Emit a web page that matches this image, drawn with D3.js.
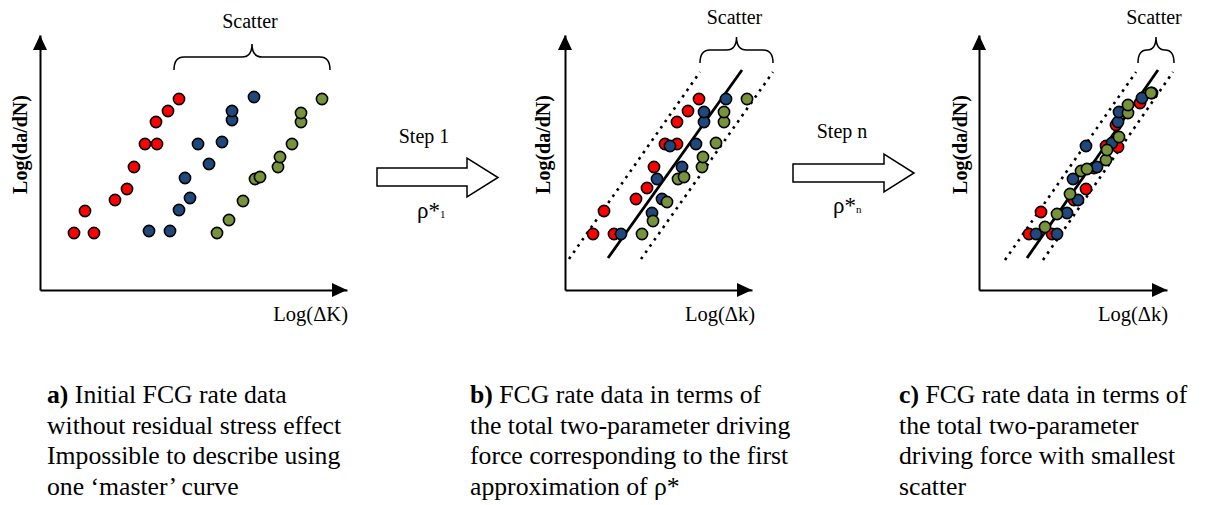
<!DOCTYPE html>
<html>
<head>
<meta charset="utf-8">
<script src="https://cdn.jsdelivr.net/npm/d3@7"></script>
<style>
  html, body { margin: 0; padding: 0; background: #fff; }
  svg { display: block; }
  text { font-family: "Liberation Serif", "Times New Roman", serif; fill: #000; }
</style>
</head>
<body>
<svg id="chart" width="1210" height="505"></svg>
<script>
// ---------------- DATA (schematic units: offset along each axis) ----------------
// Panel a: initial FCG data, three series
const aRed   = [[34,57],[54,57],[45,79],[75,90],[87,101],[94,123],[105,146],[117,146],[116,168],[128,179],[139,191]];
const aBlue  = [[109,59],[130,59],[139,80],[150,92],[145,112],[169,126],[158,146],[182,148],[192,170],[192,179],[214,193]];
const aGreen = [[177,57],[189,70],[203,89],[215,111],[220,113],[238,123],[240,133],[252,146],[261,168],[261,177],[282,191]];
const aScatter = [134, 290];          // brace span (x units)

// Panel b: first approximation rho*_1
const bRed   = [[28,56],[39,79],[49,56],[71,91],[82,102],[89,123],[100,146],[112,146],[112,168],[123,179],[134,191]];
const bBlue  = [[56,56],[87,77],[97,91],[92,111],[105,144],[117,123],[131,146],[139,168],[139,178],[161,191]];
const bGreen = [[77,56],[88,69],[102,88],[113,111],[119,113],[137,123],[138,133],[151,147],[159,168],[159,178],[182,191]];
const bFit   = [[43,32],[177,220]];
const bLow   = [[4,31],[135,218]];
const bHigh  = [[76,31],[208,218]];
const bScatter = [135, 208];

// Panel c: step n, rho*_n
const cRed   = [[50,56],[62,78],[73,56],[95,90],[107,101],[115,122],[127,144],[139,143],[137,165],[161,187],[173,197]];
const cBlue  = [[57,56],[78,56],[88,77],[99,90],[94,111],[118,123],[107,144],[133,147],[139,168],[140,178],[163,192]];
const cGreen = [[66,63],[78,76],[91,96],[102,119],[108,121],[127,130],[128,140],[140,153],[149,177],[149,185],[172,197]];
const cFit   = [[48,32],[179,220]];
const cLow   = [[26,30],[157,218]];
const cHigh  = [[64,30],[194,218]];
const cScatter = [159, 195];

// Text
const yLabel = "Log(da/dN)";
const xLabels = ["Log(\u0394K)", "Log(\u0394k)", "Log(\u0394k)"];
const scatterLabel = "Scatter";
const stepLabels = ["Step 1", "Step n"];
const rhoSubs = ["1", "n"];
const captions = [
  { tag: "a)", lines: [" Initial FCG rate data", "without residual stress effect", "Impossible to describe using", "one \u2018master\u2019 curve"] },
  { tag: "b)", lines: [" FCG rate data in terms of", "the total two-parameter driving", "force corresponding to the first", "approximation of \u03c1*"] },
  { tag: "c)", lines: [" FCG rate data in terms of", "the total two-parameter", "driving force with smallest", "scatter"] }
];

// ---------------- LAYOUT ----------------
const colors = { red: "#ff0000", blue: "#1f497d", green: "#77933c" };
const svg = d3.select("#chart");
const Y0 = 290, YTIP = 35, YLEN = 255;

const panels = [
  { x0: 40,  len: 307, series: [aRed, aBlue, aGreen], fit: null, low: null, high: null, scatter: aScatter, labelX: 27, xLabelRight: 348, scatterBase: 28, braceY: 70 },
  { x0: 565, len: 187, series: [bRed, bBlue, bGreen], fit: bFit, low: bLow, high: bHigh, scatter: bScatter, labelX: 550, xLabelRight: 755, scatterBase: 24, braceY: 63 },
  { x0: 979, len: 188, series: [cRed, cBlue, cGreen], fit: cFit, low: cLow, high: cHigh, scatter: cScatter, labelX: 967, xLabelRight: 1168, scatterBase: 24, braceY: 63 }
];
const seriesColors = [colors.red, colors.blue, colors.green];

panels.forEach((p, i) => {
  const x = d3.scaleLinear().domain([0, p.len]).range([p.x0, p.x0 + p.len]);
  const y = d3.scaleLinear().domain([0, YLEN]).range([Y0, YTIP]);
  const g = svg.append("g");

  // axes (domain lines only)
  const gx = g.append("g").attr("transform", `translate(0,${Y0})`)
    .call(d3.axisBottom(x).tickValues([]).tickSizeOuter(0));
  const gy = g.append("g").attr("transform", `translate(${p.x0},0)`)
    .call(d3.axisLeft(y).tickValues([]).tickSizeOuter(0));
  [gx, gy].forEach(a => a.select(".domain").attr("stroke", "#000").attr("stroke-width", 2));

  // arrowheads
  const xt = x(p.len), yt = y(YLEN);
  g.append("path").attr("d", `M${xt},${Y0} L${xt - 15},${Y0 - 7} L${xt - 15},${Y0 + 7} Z`).attr("fill", "#000");
  g.append("path").attr("d", `M${p.x0},${yt} L${p.x0 - 7},${yt + 15} L${p.x0 + 7},${yt + 15} Z`).attr("fill", "#000");

  // labels
  g.append("text")
    .attr("transform", `translate(${p.labelX},${(Y0 + YTIP) / 2 - 18}) rotate(-90)`)
    .attr("text-anchor", "middle")
    .style("font-size", "20px").style("font-weight", "bold")
    .text(yLabel);
  g.append("text").attr("x", p.xLabelRight).attr("y", 321)
    .attr("text-anchor", "end").style("font-size", "20.5px").text(xLabels[i]);

  // band lines
  const line = d3.line().x(d => x(d[0])).y(d => y(d[1]));
  if (p.low) {
    [p.low, p.high].forEach(l => {
      g.append("path").attr("d", line(l)).attr("fill", "none")
        .attr("stroke", "#000").attr("stroke-width", 2.6)
        .attr("stroke-dasharray", "2.6 5");
    });
    g.append("path").attr("d", line(p.fit)).attr("fill", "none")
      .attr("stroke", "#000").attr("stroke-width", 2.8);
  }

  // points
  p.series.forEach((s, k) => {
    g.append("g").selectAll("circle").data(s).join("circle")
      .attr("cx", d => x(d[0])).attr("cy", d => y(d[1])).attr("r", 5.6)
      .attr("fill", seriesColors[k]).attr("stroke", "#000").attr("stroke-width", 1.6);
  });

  // brace
  const x1 = x(p.scatter[0]), x2 = x(p.scatter[1]), xm = (x1 + x2) / 2;
  const yb = p.braceY, ytop = yb - 13, ytip = ytop - 13;
  const r = Math.min(10, (x2 - x1) / 4);
  g.append("path")
    .attr("d", `M${x1},${yb} Q${x1},${ytop} ${x1 + r},${ytop} L${xm - r},${ytop} Q${xm},${ytop} ${xm},${ytip} Q${xm},${ytop} ${xm + r},${ytop} L${x2 - r},${ytop} Q${x2},${ytop} ${x2},${yb}`)
    .attr("fill", "none").attr("stroke", "#000").attr("stroke-width", 1.5);
  g.append("text").attr("x", xm - 2).attr("y", p.scatterBase)
    .attr("text-anchor", "middle").style("font-size", "20px").text(scatterLabel);
});

// block arrows between panels
const arrows = [
  { x0: 377, xh: 467, xt: 498, b1: 168, b2: 186, h1: 158, h2: 197, labelX: 424, labelY: 143, rhoX: 417, rhoY: 218 },
  { x0: 793, xh: 884, xt: 914, b1: 164, b2: 182, h1: 154, h2: 192, labelX: 842, labelY: 138, rhoX: 833, rhoY: 213 }
];
arrows.forEach((a, i) => {
  const ym = (a.h1 + a.h2) / 2;
  svg.append("path")
    .attr("d", `M${a.x0},${a.b1} L${a.xh},${a.b1} L${a.xh},${a.h1} L${a.xt},${ym} L${a.xh},${a.h2} L${a.xh},${a.b2} L${a.x0},${a.b2} Z`)
    .attr("fill", "#fff").attr("stroke", "#000").attr("stroke-width", 1.5);
  svg.append("text").attr("x", a.labelX).attr("y", a.labelY)
    .attr("text-anchor", "middle").style("font-size", "20px").text(stepLabels[i]);
  const t = svg.append("text").attr("x", a.rhoX).attr("y", a.rhoY).style("font-size", "23px");
  t.append("tspan").text("\u03c1*");
  t.append("tspan").attr("dy", 0).style("font-size", "11px").text(rhoSubs[i]);
});

// captions
const capX = [47, 470, 899];
captions.forEach((c, i) => {
  c.lines.forEach((ln, j) => {
    const t = svg.append("text").attr("x", capX[i]).attr("y", 403 + j * 30.5).style("font-size", "25.7px");
    if (j === 0) t.append("tspan").style("font-weight", "bold").text(c.tag);
    t.append("tspan").text(ln);
  });
});
</script>
</body>
</html>
